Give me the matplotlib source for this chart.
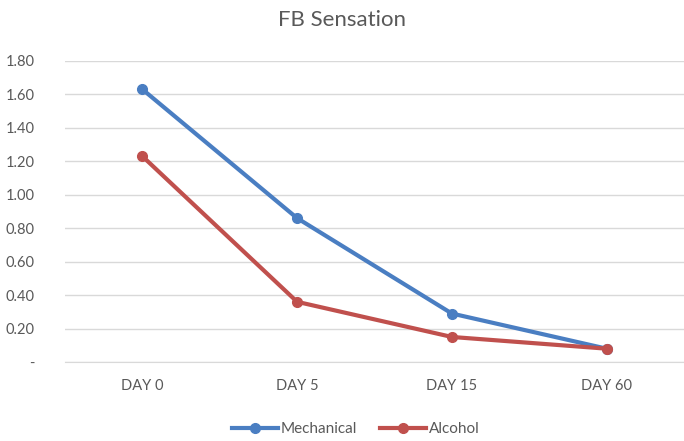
import matplotlib.pyplot as plt

plt.rcParams['font.family'] = ['Lato', 'DejaVu Sans']

days = ['DAY 0', 'DAY 5', 'DAY 15', 'DAY 60']
mechanical = [1.63, 0.86, 0.29, 0.08]
alcohol = [1.23, 0.36, 0.15, 0.08]
yticks = [0, 0.2, 0.4, 0.6, 0.8, 1.0, 1.2, 1.4, 1.6, 1.8]

fig = plt.figure(figsize=(6.84, 4.41), dpi=100)
ax = fig.add_axes([0.095, 0.179, 0.905, 0.683])

x = range(len(days))
ax.plot(x, mechanical, color='#4a7ec2', lw=3, marker='o', ms=7, label='Mechanical', zorder=3)
ax.plot(x, alcohol, color='#c0504d', lw=3, marker='o', ms=7, label='Alcohol', zorder=3)

ax.set_xlim(-0.5, 3.5)
ax.set_ylim(0, 1.8)
ax.set_yticks(yticks)
ax.set_yticklabels(['-' if v == 0 else '%.2f' % v for v in yticks])
ax.set_xticks(list(x))
ax.set_xticklabels(days)
ax.grid(axis='y', color='#d9d9d9', lw=1)
ax.set_axisbelow(True)
for s in ax.spines.values():
    s.set_visible(False)
ax.spines['bottom'].set_visible(True)
ax.spines['bottom'].set_color('#d9d9d9')
ax.tick_params(axis='both', length=0, colors='#595959', labelsize=10.5)
ax.tick_params(axis='y', pad=22)
ax.tick_params(axis='x', pad=12)

fig.suptitle('FB Sensation', y=0.978, fontsize=16, color='#595959')
fig.legend(loc='lower center', bbox_to_anchor=(0.52, -0.02), ncol=2, frameon=False,
           fontsize=11, labelcolor='#595959', handlelength=3, columnspacing=1.5, handletextpad=0.2)

fig.savefig('out.png', dpi=100)
